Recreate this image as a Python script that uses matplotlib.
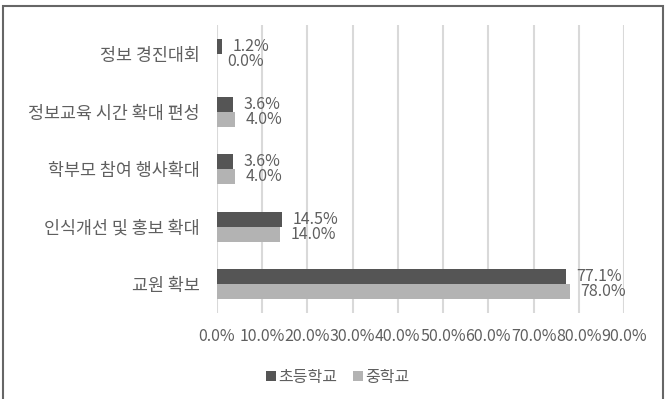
import matplotlib
matplotlib.use("Agg")
import matplotlib.pyplot as plt
from matplotlib.patches import Rectangle
import numpy as np

plt.rcParams['font.family'] = ['Noto Sans CJK KR', 'DejaVu Sans']

categories = ["정보 경진대회", "정보교육 시간 확대 편성", "학부모 참여 행사확대", "인식개선 및 홍보 확대", "교원 확보"]
elementary = [1.2, 3.6, 3.6, 14.5, 77.1]
middle = [0.0, 4.0, 4.0, 14.0, 78.0]
series_names = ["초등학교", "중학교"]
xticks = [0, 10, 20, 30, 40, 50, 60, 70, 80, 90]

dark = "#555555"
light = "#b3b3b3"
text_color = "#5f5f5f"

fig = plt.figure(figsize=(6.69, 3.99), dpi=100)
ax = fig.add_axes([0.324, 0.215, 0.609, 0.722])

y = np.arange(len(categories))
h = 0.26
b1 = ax.barh(y - h / 2, elementary, height=h, color=dark, label=series_names[0], zorder=3)
b2 = ax.barh(y + h / 2, middle, height=h, color=light, label=series_names[1], zorder=3)

for bars, vals in ((b1, elementary), (b2, middle)):
    for rect, v in zip(bars, vals):
        ax.annotate(f"{v:.1f}%", (rect.get_width(), rect.get_y() + rect.get_height() / 2),
                    xytext=(7.5, 0), textcoords="offset points", va="center", ha="left",
                    fontsize=11.5, color=text_color)

ax.set_ylim(len(categories) - 0.5, -0.5)
ax.set_xlim(0, 90)
ax.set_xticks(xticks)
ax.set_xticklabels([f"{t:.1f}%" for t in xticks], fontsize=11.5, color=text_color)
ax.set_yticks(y)
ax.set_yticklabels(categories, fontsize=12.5, color=text_color)
ax.tick_params(axis='both', length=0)
ax.tick_params(axis='y', pad=12)
ax.tick_params(axis='x', pad=11)
ax.grid(axis='x', color="#d9d9d9", linewidth=1.5, zorder=0)
ax.set_axisbelow(True)
for s in ax.spines.values():
    s.set_visible(False)

leg = fig.legend(handles=[b1, b2], labels=series_names, loc="center", bbox_to_anchor=(0.505, 0.055),
                 ncol=2, frameon=False, fontsize=11.5, handlelength=0.6, handleheight=0.6,
                 handletextpad=0.15, columnspacing=1.0)
for t in leg.get_texts():
    t.set_color(text_color)

fig.patches.append(Rectangle((3 / 669, -0.05), 660 / 669, 1 - 6 / 399 + 0.05, transform=fig.transFigure,
                             fill=False, edgecolor="#666666", linewidth=1.5))

fig.savefig("out.png", dpi=100, facecolor="white")
